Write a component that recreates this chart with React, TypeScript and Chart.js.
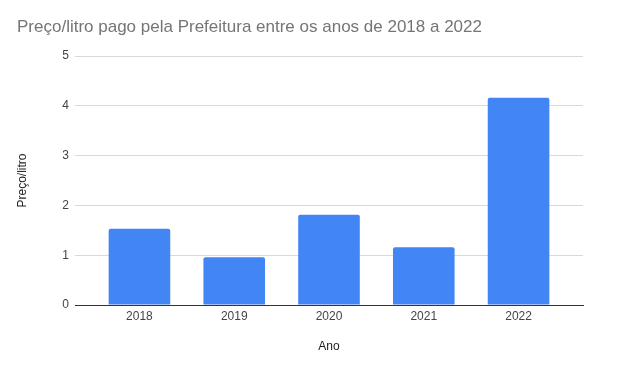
import React, { useEffect, useRef } from "react";
import { Chart, registerables } from "chart.js";

Chart.register(...registerables);

const years = ["2018", "2019", "2020", "2021", "2022"];
const prices = [1.53, 0.96, 1.81, 1.16, 4.16];
const yTicks = [0, 1, 2, 3, 4, 5];
const titleText = "Preço/litro pago pela Prefeitura entre os anos de 2018 a 2022";
const yTitle = "Preço/litro";
const xTitle = "Ano";

const FONT = "Arial, 'Liberation Sans', sans-serif";

export default function App() {
  const ref = useRef<HTMLCanvasElement | null>(null);

  useEffect(() => {
    if (!ref.current) return;
    const chart = new Chart(ref.current, {
      type: "bar",
      data: {
        labels: years,
        datasets: [
          {
            label: yTitle,
            data: prices.map((v, i) => ({ x: i, y: v })),
            backgroundColor: "#4285F4",
            borderRadius: 2,
            borderSkipped: "bottom",
            barPercentage: 0.65,
            categoryPercentage: 1,
          },
        ],
      },
      options: {
        responsive: false,
        animation: false,
        layout: { padding: { left: 17, right: 34, top: 0, bottom: 0 } },
        plugins: {
          legend: { display: false },
          tooltip: { enabled: false },
          title: {
            display: true,
            text: titleText,
            align: "start",
            color: "#757575",
            font: { family: FONT, size: 17, weight: "normal", lineHeight: 1.2 },
            padding: { top: 17, bottom: 18.6 },
          },
        },
        scales: {
          x: {
            type: "linear",
            offset: false,
            min: -0.68,
            max: 4.68,
            afterBuildTicks: (scale: any) => {
              scale.ticks = years.map((_, i) => ({ value: i }));
            },
            afterFit: (scale: any) => {
              scale.height = 63;
            },
            grid: { display: false, drawTicks: false, offset: false },
            border: { display: true, color: "#333333", width: 1 },
            ticks: {
              padding: 4.5,
              color: "#444444",
              font: { family: FONT, size: 12 },
              autoSkip: false,
              maxRotation: 0,
              callback: (value: any) => years[Math.round(Number(value))] ?? "",
            },
            title: {
              display: true,
              text: xTitle,
              color: "#222222",
              font: { family: FONT, size: 12 },
              padding: { top: 0, bottom: 14 },
            },
          },
          y: {
            min: 0,
            max: 5,
            afterBuildTicks: (scale: any) => {
              scale.ticks = yTicks.map((v) => ({ value: v }));
            },
            afterFit: (scale: any) => {
              scale.width = 58;
            },
            grid: {
              drawTicks: false,
              color: (ctx: any) => (ctx.tick && ctx.tick.value === 0 ? "#333333" : "#d9d9d9"),
              lineWidth: 1,
            },
            border: { display: false },
            ticks: {
              padding: 6,
              color: "#444444",
              font: { family: FONT, size: 12 },
            },
            title: {
              display: true,
              text: yTitle,
              color: "#222222",
              font: { family: FONT, size: 12, lineHeight: 1 },
              padding: 0,
            },
          },
        },
      },
    });
    return () => chart.destroy();
  }, []);

  return (
    <div
      style={{
        position: "fixed",
        left: 0,
        top: 0,
        width: 617,
        height: 368,
        background: "#ffffff",
      }}
    >
      <canvas ref={ref} width={617} height={368} style={{ display: "block" }} />
    </div>
  );
}
